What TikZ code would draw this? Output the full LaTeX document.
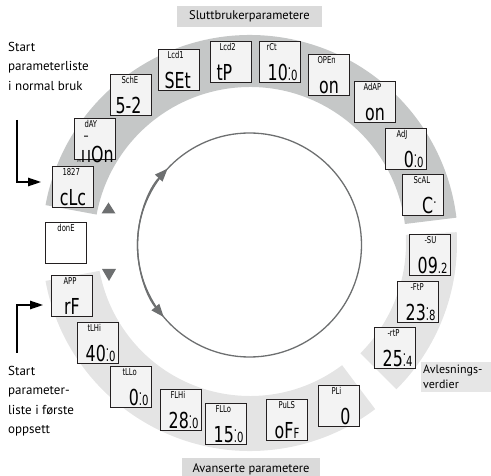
\documentclass[tikz,border=0pt]{standalone}
\usepackage{fontspec}
\usepackage{graphicx}
\setmainfont{PT Sans}
\newfontfamily\lcdfont{DejaVu Sans}
\usetikzlibrary{arrows.meta}
\definecolor{bandtop}{HTML}{C5C7C7}
\definecolor{bandlow}{HTML}{E4E4E4}
\definecolor{labelbg}{HTML}{DADADA}
\definecolor{labelbgb}{HTML}{E6E6E6}
\definecolor{boxfill}{HTML}{F3F3F3}
\definecolor{boxline}{HTML}{231F20}
\definecolor{ringgray}{HTML}{6D6F70}
\newcommand\lsmall{\lcdfont\fontsize{9.5}{10}\selectfont}
\newcommand\lbig{\lcdfont\fontsize{22}{22}\selectfont}
\newcommand\lmid{\lcdfont\fontsize{14}{14}\selectfont}
\newcommand\Bg[1]{\scalebox{0.72}[1]{\lbig #1}}
\newcommand\Md[1]{\scalebox{0.72}[1]{\lmid #1}}
\newcommand\Sm[1]{\scalebox{0.72}[1]{\lsmall #1}}
% display: #1 small label, #2 alignment, #3 big content, #4 indent of small label
\newcommand\dispc[4]{\parbox[c][37pt][s]{35pt}{\hspace*{#4}\Sm{#1}\par\vfill\lbig #2#3\par}}
% number with raised dot and small last digit
\newcommand\dnum[2]{\Bg{#1}\Md{\rlap{\raisebox{11pt}{.}}.#2}}
\newcommand\snum[2]{\Bg{#1}\Md{.#2}}
\tikzset{
  lcdbox/.style={draw=boxline, fill=boxfill, line width=0.9pt, minimum width=41pt, minimum height=41pt, inner sep=0pt},
  donebox/.style={lcdbox, fill=white},
  lab/.style={fill=labelbg, inner sep=0pt, font=\fontsize{12.5}{15}\selectfont},
  starttext/.style={inner sep=0pt, align=left, font=\fontsize{13}{19.5}\selectfont},
  ringline/.style={draw=ringgray, line width=1.3pt},
  startarrow/.style={line width=1.3pt, -{Triangle[length=13pt,width=8.5pt]}},
}
\begin{document}
\begin{tikzpicture}[x=1pt,y=-1pt]
\useasboundingbox (0,0) rectangle (491,476);
\clip (0,0) rectangle (491,476);
% bands
\fill[bandtop] ([shift={(250,243)}]169.5:208pt) arc[start angle=169.5,end angle=7,radius=208pt]
  -- ([shift={(250,243)}]7:156pt) arc[start angle=7,end angle=169.5,radius=156pt] -- cycle;
\fill[bandlow] ([shift={(250,243)}]190.5:208pt) arc[start angle=190.5,end angle=307,radius=208pt]
  -- ([shift={(250,243)}]307:153pt) arc[start angle=307,end angle=190.5,radius=153pt] -- cycle;
\fill[bandlow] ([shift={(250,243)}]3:207pt) arc[start angle=3,end angle=-45,radius=207pt]
  -- ([shift={(250,243)}]-45:156pt) arc[start angle=-45,end angle=3,radius=156pt] -- cycle;
% inner ring with arrows
\draw[ringline] (249.5,245) circle[radius=112pt];
\draw[ringline, -{Triangle[length=13pt,width=10pt]}] ([shift={(249.5,245)}]180:112pt) arc[start angle=180,end angle=137,radius=112pt];
\draw[ringline, -{Triangle[length=13pt,width=10pt]}] ([shift={(249.5,245)}]180:112pt) arc[start angle=180,end angle=220,radius=112pt];
% triangles
\fill[ringgray] (101.5,213.5) -- (115.5,213.5) -- (108.5,202.5) -- cycle;
\fill[ringgray] (102,269) -- (116,269) -- (109,281) -- cycle;
% labels
\node[lab, minimum width=145pt, minimum height=21pt] (slutt) at (249.5,16.5) {Sluttbrukerparametere};
\node[lab, minimum width=138pt, minimum height=22pt] (avans) at (251,469) {Avanserte parametere};
\node[lab, fill=labelbgb, anchor=north west, align=left, inner xsep=2pt, inner ysep=3pt, text width=66pt, font=\fontsize{12}{15}\selectfont] (avles) at (421,362) {Avlesnings-\\verdier};
\node[starttext, anchor=north west] (startA) at (8,42) {Start\\parameterliste\\i normal bruk};
\node[starttext, anchor=north west] (startB) at (8,366) {Start\\parameter-\\liste i første\\oppsett};
% displays - user parameters
\node[lcdbox] (clc) at (73,187) {\dispc{1827}{\centering}{\Bg{cLc}}{7pt}};
\node[lcdbox] (day) at (95,139) {\parbox[c][37pt][s]{35pt}{\hspace*{7pt}\Sm{dAY}\par\vspace{-1pt}\lmid\hspace*{6pt}\Md{–}\par\vfill\lbig{\fontsize{4}{4}\selectfont M}\hspace*{\fill}\Bg{ı\kern2pt ıOn}\par}};
\node[lcdbox] (sche) at (131,95) {\dispc{SchE}{}{\hspace*{2pt}\Bg{5-2}}{8pt}};
\node[lcdbox] (lcda) at (179,70) {\dispc{Lcd1}{}{\hspace*{3pt}\Bg{SEt}}{6pt}};
\node[lcdbox] (lcdb) at (231,62) {\dispc{Lcd2}{}{\hspace*{3pt}\Bg{tP}}{6pt}};
\node[lcdbox] (rct) at (280,62) {\dispc{rCt}{\raggedleft}{\dnum{10}{0}}{4pt}};
\node[lcdbox] (open) at (329,75) {\dispc{OPEn}{\centering}{\Bg{on}}{6pt}};
\node[lcdbox] (adap) at (375,102) {\dispc{AdAP}{\centering}{\Bg{on}}{6pt}};
\node[lcdbox] (adj) at (406,149) {\dispc{AdJ}{\raggedleft}{\dnum{0}{0}}{8pt}};
\node[lcdbox] (scal) at (423,195) {\dispc{ScAL}{\raggedleft}{\Bg{C}\Md{\raisebox{10pt}{.}}\hspace*{4pt}}{8pt}};
% readings
\node[lcdbox] (su) at (430,255) {\dispc{-SU}{\raggedleft}{\snum{09}{2}}{12pt}};
\node[lcdbox] (ftp) at (418,302) {\dispc{-FtP}{\raggedleft}{\dnum{23}{8}}{10pt}};
\node[lcdbox] (rtp) at (395,348) {\dispc{-rtP}{\raggedleft}{\dnum{25}{4}}{10pt}};
% advanced
\node[lcdbox] (pli) at (339,406) {\dispc{PLi}{\raggedleft}{\Bg{0}\hspace*{6pt}}{10pt}};
\node[lcdbox] (puls) at (287,420) {\dispc{PuLS}{\centering}{\Bg{oF}\Md{F}}{9pt}};
\node[lcdbox] (fllo) at (226,424) {\dispc{FLLo}{\raggedleft}{\dnum{15}{0}}{7pt}};
\node[lcdbox] (flhi) at (181,410) {\dispc{FLHi}{\raggedleft}{\dnum{28}{0}}{7pt}};
\node[lcdbox] (tllo) at (131,387) {\dispc{tLLo}{\raggedleft}{\dnum{0}{0}}{9pt}};
\node[lcdbox] (tlhi) at (98,343) {\dispc{tLHi}{\raggedleft}{\dnum{40}{0}}{7pt}};
\node[lcdbox] (app) at (72,296) {\dispc{APP}{\centering}{\Bg{rF}}{9pt}};
\node[donebox] (done) at (66,243) {\parbox[c][37pt][t]{36pt}{\centering\Sm{donE}\par}};
% start arrows
\coordinate (a1) at (17,120);
\coordinate (a1tip) at (41,182);
\coordinate (b1) at (17,353);
\coordinate (b1tip) at (43,305);
\draw[startarrow] (a1) |- (a1tip);
\draw[startarrow] (b1) |- (b1tip);
\end{tikzpicture}
\end{document}
